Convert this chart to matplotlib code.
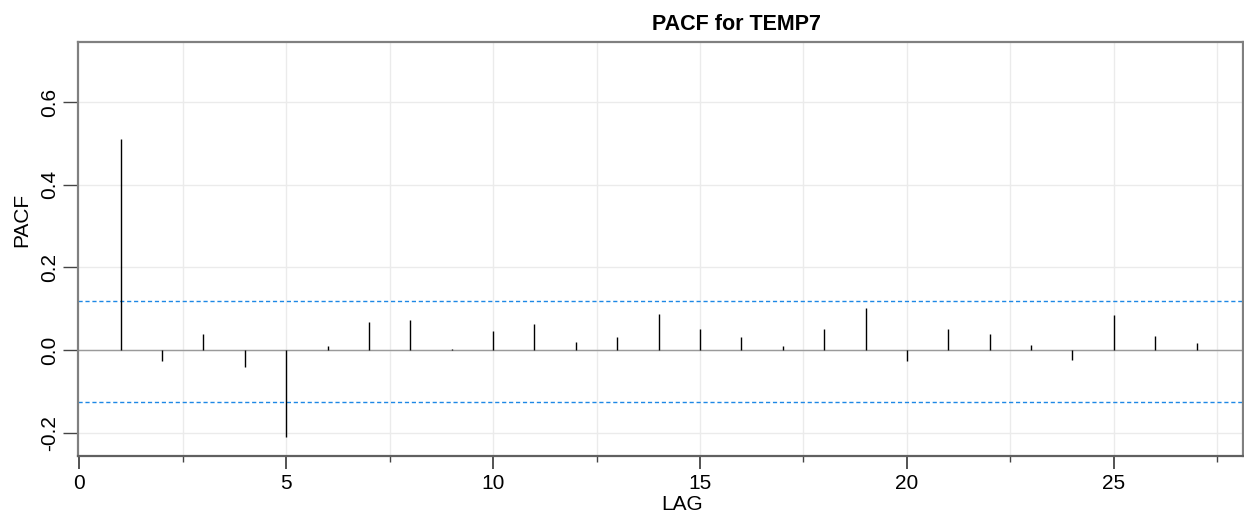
import numpy as np
import matplotlib
matplotlib.use('Agg')
import matplotlib.pyplot as plt
from matplotlib.ticker import MultipleLocator

plt.rcParams['font.family'] = ['Liberation Sans', 'DejaVu Sans']

# PACF values
lags = np.arange(1, 28)
pacf = [0.510, -0.027, 0.039, -0.040, -0.210, 0.011, 0.069, 0.073, 0.002,
        0.047, 0.064, 0.019, 0.031, 0.088, 0.050, 0.031, 0.010, 0.051,
        0.102, -0.026, 0.051, 0.039, 0.012, -0.024, 0.086, 0.034, 0.016]
upper_bound = 0.120
lower_bound = -0.126
yticks = [-0.2, 0.0, 0.2, 0.4, 0.6]
xticks = [0, 5, 10, 15, 20, 25]

fig = plt.figure(figsize=(12.44, 5.2), dpi=100)
ax = fig.add_axes([0.0627, 0.1237, 0.9361, 0.7955])

#---> grid
for xg in np.arange(2.5, 28.1, 2.5):
    ax.axvline(xg, color='#ebebeb', lw=1.0, zorder=0)
for yg in yticks:
    ax.axhline(yg, color='#ebebeb', lw=1.0, zorder=0)

#---> bars, zero line, bounds
ax.axhline(0, color='#9a9a9a', lw=1.0, zorder=2)
ax.vlines(lags, 0, pacf, color='black', lw=1.0, zorder=3)
ax.axhline(upper_bound, color='#1e88e5', lw=1.0, ls=(0, (3, 2)), zorder=2)
ax.axhline(lower_bound, color='#1e88e5', lw=1.0, ls=(0, (3, 2)), zorder=2)

ax.set_xlim(-0.031, 28.11)
ax.set_ylim(-0.2557, 0.746)

ax.set_xticks(xticks)
ax.xaxis.set_minor_locator(MultipleLocator(2.5))
ax.set_yticks(yticks)
ax.set_yticklabels(['-0.2', '0.0', '0.2', '0.4', '0.6'], rotation=90, va='center')

ax.tick_params(axis='y', length=10.8, width=1.0, color='#444444', pad=3, labelsize=15)
ax.tick_params(axis='x', which='major', length=9, width=1.3, color='#444444', pad=4, labelsize=15)
ax.tick_params(axis='x', which='minor', length=4.3, width=1.0, color='#444444')

for side in ['left', 'top', 'right']:
    ax.spines[side].set_color('#808080')
    ax.spines[side].set_linewidth(1.6)
ax.spines['bottom'].set_color('#606060')
ax.spines['bottom'].set_linewidth(1.6)

fig.text(736 / 1244, 1 - 24 / 520, 'PACF for TEMP7', ha='center', va='center',
         fontsize=15.5, fontweight='bold')
fig.text(22 / 1244, 1 - 220 / 520, 'PACF', ha='center', va='center',
         rotation=90, fontsize=15)
fig.text(682 / 1244, 1 - 505 / 520, 'LAG', ha='center', va='center', fontsize=15)

plt.savefig('out.png', dpi=100)
